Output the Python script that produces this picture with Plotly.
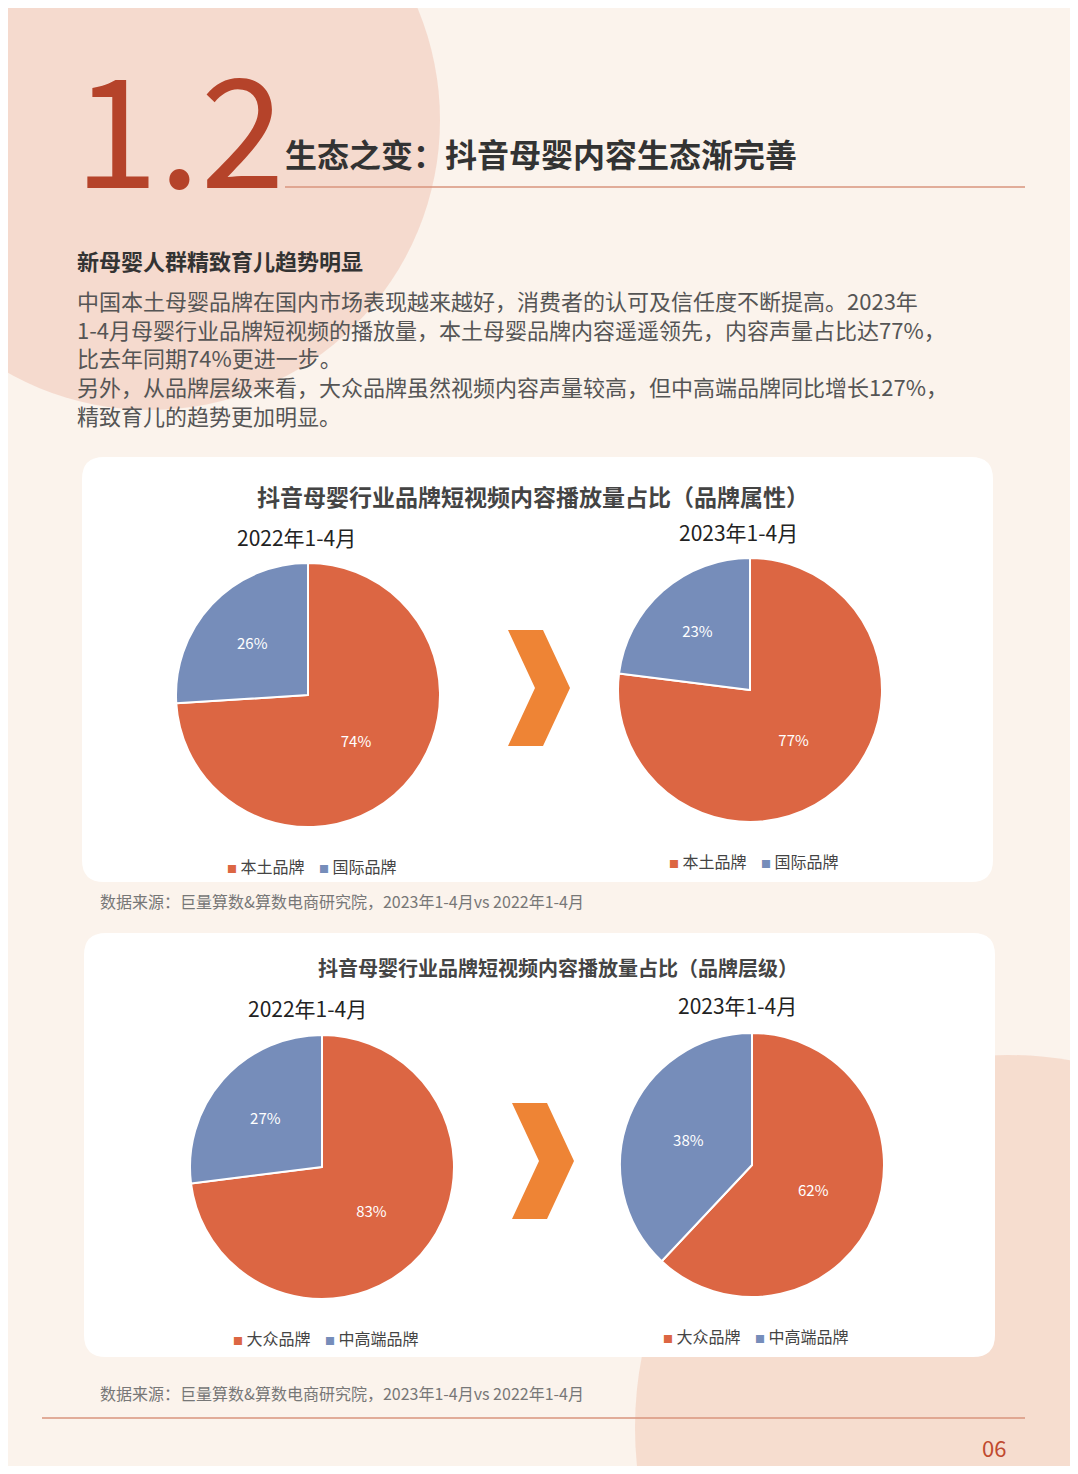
import plotly.graph_objects as go

W, H = 1078, 1474
OFF = 8
ORANGE = "#DC6643"
BLUE = "#768DBA"
FONT = "Noto Sans CJK SC"

# data
attr_labels = ["本土品牌", "国际品牌"]
attr_2022 = [74, 26]
attr_2023 = [77, 23]
tier_labels = ["大众品牌", "中高端品牌"]
tier_2022 = [73, 27]
tier_2022_text = ["83%", "27%"]
tier_2023 = [62, 38]

FW, FH = W - 2 * OFF, H - 2 * OFF
def px(x): return (x - OFF) / FW
def py(y): return 1 - (y - OFF) / FH

fig = go.Figure()

def add_pie(vals, labels, x0, x1, ytop, ybot, text=None):
    fig.add_trace(go.Pie(
        values=vals, labels=labels, sort=False, direction="clockwise", rotation=0,
        marker=dict(colors=[ORANGE, BLUE], line=dict(color="white", width=2)),
        text=text if text else [f"{v}%" for v in vals], textinfo="text",
        textfont=dict(color="white", size=15, family=FONT),
        insidetextorientation="horizontal", showlegend=False, hoverinfo="skip",
        domain=dict(x=[px(x0), px(x1)], y=[py(ybot), py(ytop)])))

add_pie(attr_2022, attr_labels, 176, 440, 563, 827)
add_pie(attr_2023, attr_labels, 618, 882, 558, 822)
add_pie(tier_2022, tier_labels, 190, 454, 1035, 1299, tier_2022_text)
add_pie(tier_2023, tier_labels, 620, 884, 1033, 1297)

shapes = []
shapes.append(dict(type="circle", xref="paper", yref="paper", x0=px(-140), x1=px(440), y0=py(410), y1=py(-170),
                   fillcolor="#F3D2C4", opacity=0.75, line=dict(width=0), layer="below"))
shapes.append(dict(type="circle", xref="paper", yref="paper", x0=px(635), x1=px(1380), y0=py(1800), y1=py(1055),
                   fillcolor="#F5D7C8", opacity=0.8, line=dict(width=0), layer="below"))

def rrect(x0, y0, x1, y1, r=22):
    X = lambda v: px(v); Y = lambda v: py(v)
    return (f"M {X(x0+r)},{Y(y0)} L {X(x1-r)},{Y(y0)} Q {X(x1)},{Y(y0)} {X(x1)},{Y(y0+r)} "
            f"L {X(x1)},{Y(y1-r)} Q {X(x1)},{Y(y1)} {X(x1-r)},{Y(y1)} L {X(x0+r)},{Y(y1)} "
            f"Q {X(x0)},{Y(y1)} {X(x0)},{Y(y1-r)} L {X(x0)},{Y(y0+r)} Q {X(x0)},{Y(y0)} {X(x0+r)},{Y(y0)} Z")

shapes.append(dict(type="path", xref="paper", yref="paper", path=rrect(82, 457, 993, 882),
                   fillcolor="white", line=dict(width=0), layer="below"))
shapes.append(dict(type="path", xref="paper", yref="paper", path=rrect(84, 933, 995, 1357),
                   fillcolor="white", line=dict(width=0), layer="below"))

def chevron(cx, cy):
    pts = [(cx-30, cy-58), (cx+5, cy-58), (cx+32, cy), (cx+5, cy+58), (cx-30, cy+58), (cx-3, cy)]
    p = "M " + " L ".join(f"{px(a)},{py(b)}" for a, b in pts) + " Z"
    return dict(type="path", xref="paper", yref="paper", path=p, fillcolor="#EE8435", line=dict(width=0))

shapes.append(chevron(538, 688))
shapes.append(chevron(542, 1161))
shapes.append(dict(type="line", xref="paper", yref="paper", x0=px(285), x1=px(1025), y0=py(187), y1=py(187),
                   line=dict(color="#D9957E", width=1.5)))
shapes.append(dict(type="line", xref="paper", yref="paper", x0=px(42), x1=px(1025), y0=py(1418), y1=py(1418),
                   line=dict(color="#D9957E", width=1.5)))

ann = []
def T(x, y, s, size, color="#333333", xa="left", bold=False):
    if bold: s = f"<b>{s}</b>"
    ann.append(dict(x=px(x), y=py(y), xref="paper", yref="paper", text=s, showarrow=False,
                    xanchor=xa, yanchor="middle", font=dict(family=FONT, size=size, color=color)))

T(72, 122, "1.2", 152, "#B5432A")
T(283, 153, "生态之变：抖音母婴内容生态渐完善", 32, "#333333", bold=True)
T(75, 260, "新母婴人群精致育儿趋势明显", 22, "#333333", bold=True)
lines = ["中国本土母婴品牌在国内市场表现越来越好，消费者的认可及信任度不断提高。2023年",
         "1-4月母婴行业品牌短视频的播放量，本土母婴品牌内容遥遥领先，内容声量占比达77%，",
         "比去年同期74%更进一步。",
         "另外，从品牌层级来看，大众品牌虽然视频内容声量较高，但中高端品牌同比增长127%，",
         "精致育儿的趋势更加明显。"]
for i, l in enumerate(lines):
    T(75, 300 + i * 28.7, l, 22, "#555555")

T(533, 496, "抖音母婴行业品牌短视频内容播放量占比（品牌属性）", 23, "#444444", "center", True)
T(296, 537, "2022年1-4月", 21, "#222222", "center")
T(738, 532, "2023年1-4月", 21, "#222222", "center")
T(558, 967, "抖音母婴行业品牌短视频内容播放量占比（品牌层级）", 20, "#444444", "center", True)
T(307, 1008, "2022年1-4月", 21, "#222222", "center")
T(737, 1005, "2023年1-4月", 21, "#222222", "center")

def legend(x, y, a, b):
    T(x, y, f"<span style='color:{ORANGE};font-size:10px'>■</span> {a}    <span style='color:{BLUE};font-size:10px'>■</span> {b}", 16, "#444444", "center")

legend(312, 866, *attr_labels)
legend(754, 861, *attr_labels)
legend(326, 1338, *tier_labels)
legend(756, 1336, *tier_labels)

T(98, 901, "数据来源：巨量算数&算数电商研究院，2023年1-4月vs 2022年1-4月", 16, "#777777")
T(98, 1393, "数据来源：巨量算数&算数电商研究院，2023年1-4月vs 2022年1-4月", 16, "#777777")
T(1008, 1447, "06", 22, "#C0492E", "right")

fig.update_layout(width=FW, height=FH, margin=dict(l=0, r=0, t=0, b=0),
                  paper_bgcolor="#FBF3EC", plot_bgcolor="#FBF3EC",
                  shapes=shapes, annotations=ann)
fig.write_html("out.html")
